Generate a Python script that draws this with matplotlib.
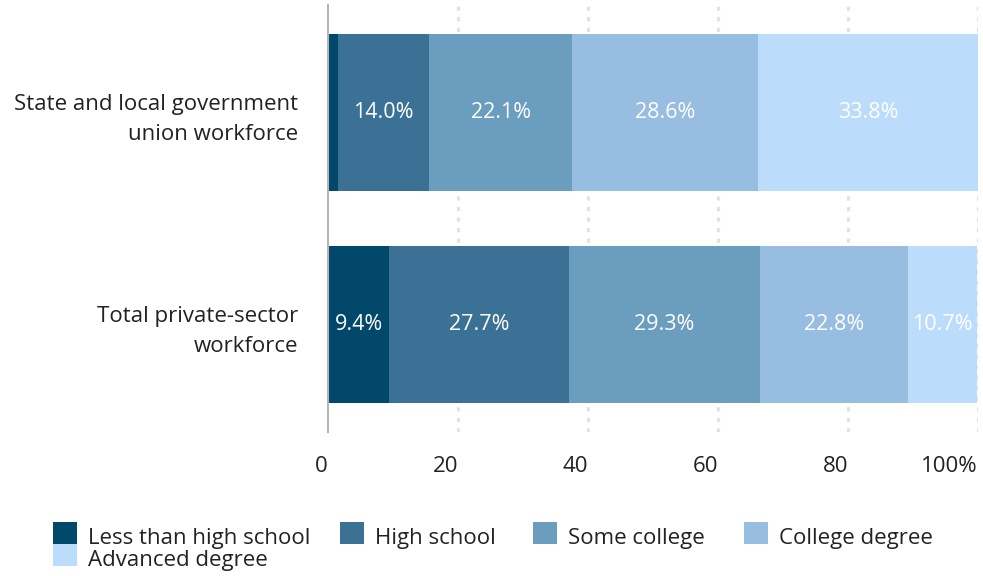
import matplotlib.pyplot as plt
from matplotlib.patches import Rectangle

# Education shares (%) of each workforce
groups = ["State and local government\nunion workforce", "Total private-sector\nworkforce"]
levels = ["Less than high school", "High school", "Some college", "College degree", "Advanced degree"]
state_local = [1.5, 14.0, 22.1, 28.6, 33.8]
private = [9.4, 27.7, 29.3, 22.8, 10.7]
xticks = [0, 20, 40, 60, 80, 100]
xtick_labels = ["0", "20", "40", "60", "80", "100%"]

colors = ["#02486b", "#3b7194", "#6b9dbf", "#97bde0", "#bcdcfc"]

plt.rcParams["font.family"] = ["Open Sans", "DejaVu Sans"]
FS = 16

W, H = 983, 576
fig = plt.figure(figsize=(W / 100, H / 100), dpi=100)
ax = fig.add_axes([328 / W, 144 / H, 650 / W, 427 / H])

rows = [state_local, private]
for i, vals in enumerate(rows):
    left = 0
    for j, v in enumerate(vals):
        ax.barh(i, v, left=left, height=0.74, color=colors[j], zorder=2)
        if v >= 5:
            ax.text(left + v / 2, i, f"{v:.1f}%", ha="center", va="center",
                    color="white", fontsize=15.5, zorder=3)
        left += v

# dotted vertical gridlines
for x in xticks[1:]:
    ax.axvline(x, color="#e2e2e2", lw=2.3, linestyle=(0, (1.3, 2.0)), zorder=1)

ax.set_xlim(0, 100)
ax.set_ylim(1.505, -0.505)
ax.set_yticks(range(len(groups)))
ax.set_yticklabels(groups, fontsize=FS, linespacing=1.55, color="#222222")
ax.set_xticks(xticks)
ax.set_xticklabels(xtick_labels, fontsize=FS, color="#222222", ha="right")
ax.tick_params(axis="both", length=0)
ax.tick_params(axis="x", pad=17)
ax.tick_params(axis="y", pad=21.5)

for s in ["top", "right", "bottom"]:
    ax.spines[s].set_visible(False)
ax.spines["left"].set_color("#b5b5b5")
ax.spines["left"].set_linewidth(1.5)
ax.spines["left"].set_zorder(4)

# legend: four entries on the first row, the fifth wraps underneath
slots = [(53, 544), (340, 544), (533, 544), (744, 544), (53, 566)]
for k, (px, base) in enumerate(slots):
    fig.add_artist(Rectangle((px / W, 1 - base / H), 24 / W, 22 / H,
                             transform=fig.transFigure, facecolor=colors[k],
                             edgecolor="none"))
    fig.text((px + 35) / W, 1 - base / H, levels[k], fontsize=FS,
             color="#222222", va="baseline", ha="left")

fig.savefig("out.png", dpi=100)
